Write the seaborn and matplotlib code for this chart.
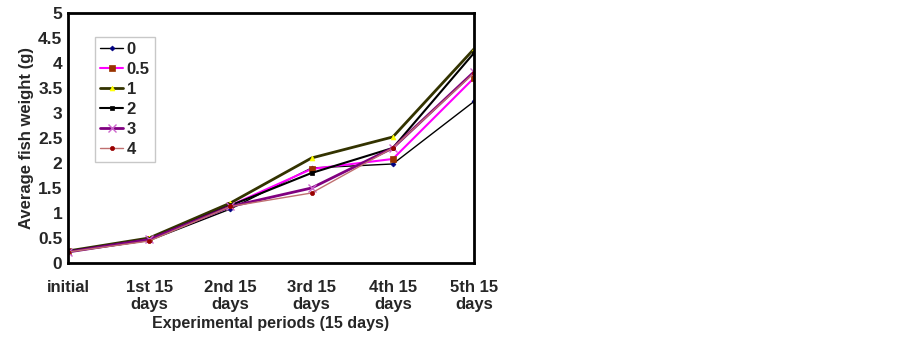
import numpy as np
import matplotlib
matplotlib.use('Agg')
import matplotlib.pyplot as plt
import seaborn as sns
import pandas as pd

periods = ['initial', '1st 15\ndays', '2nd 15\ndays', '3rd 15\ndays', '4th 15\ndays', '5th 15\ndays']
levels = ['0', '0.5', '1', '2', '3', '4']

w_0 = [0.22, 0.45, 1.08, 1.90, 1.98, 3.23]
w_05 = [0.23, 0.48, 1.15, 1.88, 2.08, 3.70]
w_1 = [0.24, 0.50, 1.20, 2.10, 2.52, 4.28]
w_2 = [0.23, 0.47, 1.15, 1.80, 2.30, 4.20]
w_3 = [0.22, 0.47, 1.13, 1.50, 2.30, 3.82]
w_4 = [0.22, 0.44, 1.13, 1.40, 2.30, 3.80]

series = [w_0, w_05, w_1, w_2, w_3, w_4]

# line colour, marker, marker face, marker size, line width
styles = {
    '0': ('black', 'D', '#000080', 2.5, 1.0),
    '0.5': ('#FF00FF', 's', '#993300', 5, 1.5),
    '1': ('#333300', '^', '#FFFF00', 3.5, 2.0),
    '2': ('black', 's', 'black', 3, 1.5),
    '3': ('#800080', 'x', '#CC66CC', 6, 2.0),
    '4': ('#C07070', 'o', '#990000', 3, 1.0),
}

rows = []
for lev, vals in zip(levels, series):
    for i, v in enumerate(vals):
        rows.append({'level': lev, 'period': i, 'weight': v})
df = pd.DataFrame(rows)

sns.set_style('white')
plt.rcParams['font.family'] = ['Liberation Sans', 'DejaVu Sans']
plt.rcParams['font.weight'] = 'bold'

fig = plt.figure(figsize=(9, 3.4), dpi=100)
ax = fig.add_axes([0.0756, 0.2265, 0.4511, 0.7355])

for lev in levels:
    col, mk, mfc, ms, lw = styles[lev]
    sub = df[df['level'] == lev]
    sns.lineplot(data=sub, x='period', y='weight', ax=ax, color=col, linewidth=lw,
                 marker=mk, markersize=ms, markerfacecolor=mfc, markeredgecolor=mfc,
                 markeredgewidth=1.0 if mk == 'x' else 0.5, label=lev)

ax.set_xlim(0, 5)
ax.set_ylim(0, 5)
ax.set_yticks(np.arange(0, 5.01, 0.5))
ax.set_yticklabels(['0', '0.5', '1', '1.5', '2', '2.5', '3', '3.5', '4', '4.5', '5'])
ax.set_xticks(range(6))
ax.set_xticklabels(periods)
ax.tick_params(axis='x', length=4, color='#999999', labelsize=12, pad=8)
ax.tick_params(axis='y', length=0, labelsize=12.5, pad=4)
for lbl in ax.get_xticklabels() + ax.get_yticklabels():
    lbl.set_fontweight('bold')

for s in ax.spines.values():
    s.set_color('black')
    s.set_linewidth(2)
    s.set_visible(True)

ax.set_xlabel('Experimental periods (15 days)', fontsize=11.5, fontweight='bold', labelpad=3)
ax.set_ylabel('Average fish weight (g)', fontsize=12, fontweight='bold', labelpad=3)

leg = ax.legend(loc='upper left', bbox_to_anchor=(0.066, 0.905), frameon=True, fancybox=False,
                fontsize=12, handlelength=1.4, handletextpad=0.2, labelspacing=0.3,
                borderpad=0.3, borderaxespad=0)
leg.get_frame().set_edgecolor('#BBBBBB')
leg.get_frame().set_linewidth(1)
for t in leg.get_texts():
    t.set_fontweight('bold')

fig.savefig('out.png', dpi=100)
